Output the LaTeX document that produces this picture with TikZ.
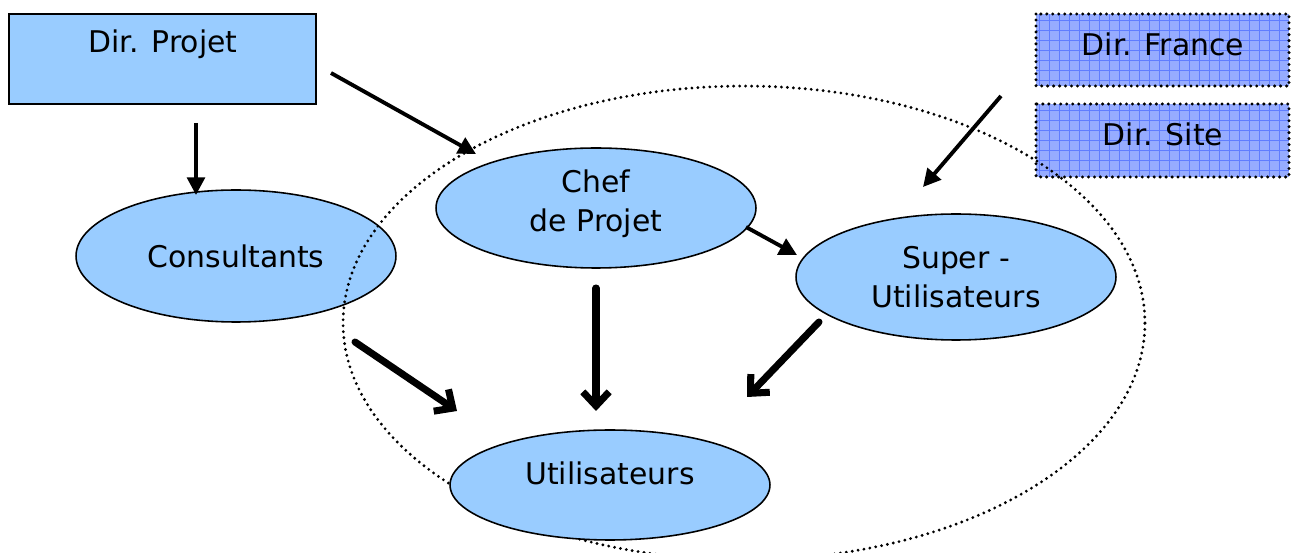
\documentclass[tikz,border=0pt]{standalone}
\usepackage{fontspec}
\setmainfont{DejaVu Sans}
\usetikzlibrary{shapes.geometric,arrows.meta,calc}
\definecolor{nodeblue}{RGB}{153,204,255}
\definecolor{gridfill}{RGB}{150,172,255}
\definecolor{gridline}{RGB}{95,125,255}
\tikzset{
  lbl/.style={font=\fontsize{17}{21}\selectfont, inner sep=0pt, align=center},
  role/.style={ellipse, draw=black, line width=0.9pt, fill=nodeblue, inner sep=0pt,
               minimum width=6.4cm},
  thinarrow/.style={line width=2.2pt, -{Triangle[length=10pt,width=10pt]}},
  thickarrow/.style={line width=4pt, line cap=round,
               -{Straight Barb[length=8pt,width=15pt,line width=4pt]}},
  scopeline/.style={black, line width=1.8pt, dash pattern=on 0pt off 3.4pt, line cap=round},
}
\newcommand{\gridbox}[5]{% name, x1, y1, x2, y2
  \begin{scope}
    \clip (#2,#3) rectangle (#4,#5);
    \fill[gridfill] (#2,#3) rectangle (#4,#5);
    \draw[gridline, line width=0.5pt] (#2,#3) grid[step=0.2cm] (#4,#5);
  \end{scope}
  \draw[black, line width=1.9pt, dash pattern=on 0pt off 3.4pt, line cap=round]
    (#2,#3) rectangle (#4,#5);
  \coordinate (#1) at ($(#2,#3)!0.5!(#4,#5)$);
}
\begin{document}
\begin{tikzpicture}[x=0.02cm, y=-0.02cm]
  \useasboundingbox (0,0) rectangle (1292,553);

  % top-left director box
  \node[draw=black, line width=0.9pt, fill=nodeblue, minimum width=6.14cm,
        minimum height=1.8cm, inner sep=0pt] (dirprojet) at (162.5,59) {};
  \node[lbl] (dirprojettxt) at (163,44) {Dir. Projet};

  % hatched director boxes on the right
  \gridbox{dirfrance}{1036}{14}{1289}{86}
  \node[lbl] (dirfrancetxt) at (1163,44) {Dir. France};
  \gridbox{dirsite}{1036}{104}{1289}{177}
  \node[lbl] (dirsitetxt) at (1163,134) {Dir. Site};

  % role ellipses
  \node[role, minimum height=2.64cm] (consultants) at (236,256) {};
  \node[lbl] at (236,256) {Consultants};
  \node[role, minimum height=2.4cm] (chef) at (596,208) {};
  \node[lbl] at (596,204) {Chef\\[1pt]de Projet};
  \node[role, minimum height=2.52cm] (super) at (956,277) {};
  \node[lbl] at (956,277) {Super -\\[1pt]Utilisateurs};

  % project scope
  \draw[scopeline] (744,323) ellipse [x radius=8.02cm, y radius=4.74cm];

  \node[role, minimum height=2.2cm] (utilisateurs) at (610,485) {};
  \node[lbl] at (610,473) {Utilisateurs};

  % connector ends
  \coordinate (a1s) at (196,123);  \coordinate (a1e) at (196,195);
  \coordinate (a2s) at (331,73);   \coordinate (a2e) at (476,154);
  \coordinate (a3s) at (1001,96);  \coordinate (a3e) at (923,187);
  \coordinate (a4s) at (746,227);  \coordinate (a4e) at (797,255);
  \coordinate (a5s) at (355,342);  \coordinate (a5e) at (457,411);
  \coordinate (a6s) at (596,288);  \coordinate (a6e) at (596,411);
  \coordinate (a7s) at (819,322);  \coordinate (a7e) at (747,397);

  \draw[thinarrow] (a1s) -- (a1e);
  \draw[thinarrow] (a2s) -- (a2e);
  \draw[thinarrow] (a3s) -- (a3e);
  \draw[thinarrow] (a4s) -- (a4e);
  \draw[thickarrow] (a5s) -- (a5e);
  \draw[thickarrow] (a6s) -- (a6e);
  \draw[thickarrow] (a7s) -- (a7e);
\end{tikzpicture}
\end{document}
